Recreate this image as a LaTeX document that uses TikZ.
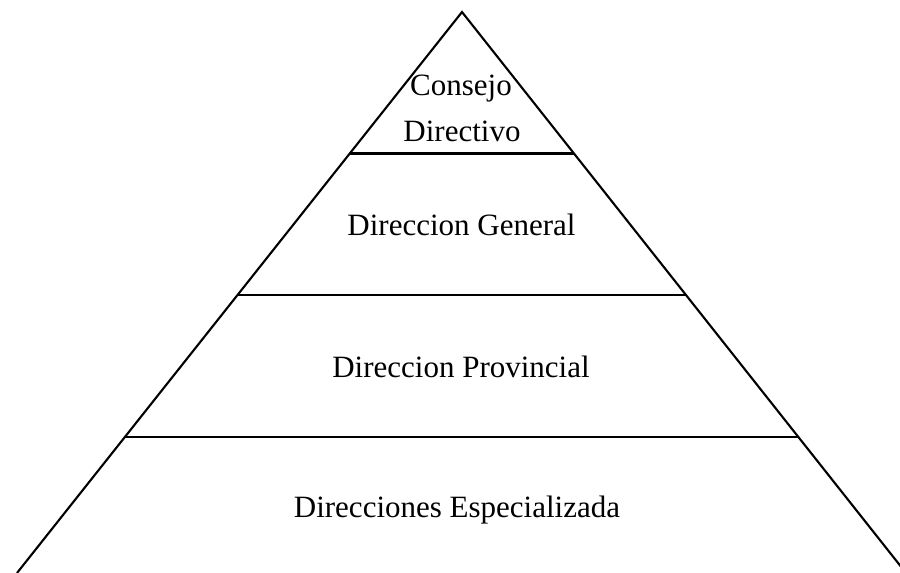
\documentclass[tikz,border=0pt]{standalone}
\usepackage{fontspec}
\setmainfont{Liberation Serif}
\usetikzlibrary{calc}
\begin{document}
\begin{tikzpicture}[x=1pt,y=-1pt,
  edge/.style={line width=2.1pt, black},
  lbl/.style={anchor=base, inner sep=0pt, font=\fontsize{31}{37}\selectfont}]
\useasboundingbox (0,0) rectangle (900,573);
\clip (0,0) rectangle (900,573);
\coordinate (A) at (462,12);
\coordinate (L) at (17,573);
\coordinate (R) at (906,573);
\coordinate (l1) at ($(A)!0.2522!(L)$);
\coordinate (r1) at ($(A)!0.2522!(R)$);
\coordinate (l2) at ($(A)!0.5045!(L)$);
\coordinate (r2) at ($(A)!0.5045!(R)$);
\coordinate (l3) at ($(A)!0.7576!(L)$);
\coordinate (r3) at ($(A)!0.7576!(R)$);
\draw[edge, line join=miter] (L) -- (A) -- (R);
\draw[edge] (l1) -- (r1);
\draw[edge] (l2) -- (r2);
\draw[edge] (l3) -- (r3);
\node[lbl] (t1) at (461,95) {Consejo};
\node[lbl] (t2) at (462,141) {Directivo};
\node[lbl] (t3) at (461.5,235) {Direccion General};
\node[lbl] (t4) at (461,377) {Direccion Provincial};
\node[lbl] (t5) at (457,517) {Direcciones Especializada};
\end{tikzpicture}
\end{document}
